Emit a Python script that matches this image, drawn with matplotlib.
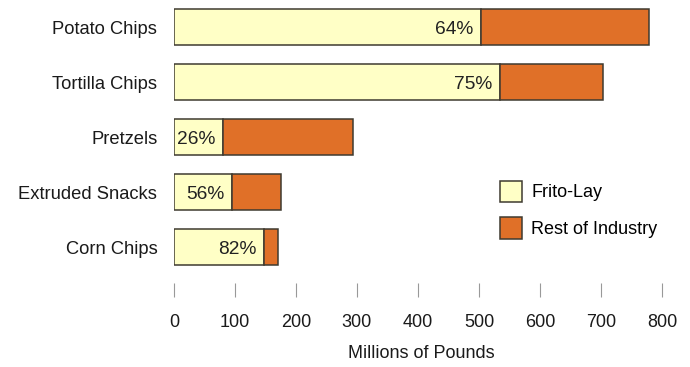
import matplotlib
matplotlib.use("Agg")
import matplotlib.pyplot as plt

categories = ["Potato Chips", "Tortilla Chips", "Pretzels", "Extruded Snacks", "Corn Chips"]
frito_lay = [504, 534, 81, 95, 147]          # millions of pounds
rest_of_industry = [275, 170, 212, 80, 24]   # millions of pounds
share_labels = ["64%", "75%", "26%", "56%", "82%"]
x_ticks = [0, 100, 200, 300, 400, 500, 600, 700, 800]
series_names = ["Frito-Lay", "Rest of Industry"]
x_label = "Millions of Pounds"

plt.rcParams["font.family"] = ["Liberation Sans", "DejaVu Sans"]

W, H = 690, 367
fig = plt.figure(figsize=(W / 100, H / 100), dpi=100)
left_px, right_px = 174, 668
top_px, bot_px = 0, 297
ax = fig.add_axes([left_px / W, 1 - bot_px / H, (right_px - left_px) / W, (bot_px - top_px) / H])

y = list(range(len(categories)))
c_frito = "#FFFFC6"
c_rest = "#E07028"
edge = "#3e3a30"
ax.barh(y, frito_lay, height=0.67, color=c_frito, edgecolor=edge, linewidth=1.1, label=series_names[0])
ax.barh(y, rest_of_industry, left=frito_lay, height=0.67, color=c_rest, edgecolor=edge, linewidth=1.1,
        label=series_names[1])

for yi, f, s in zip(y, frito_lay, share_labels):
    ax.annotate(s, xy=(f, yi), xytext=(-5.5, -1.5), textcoords="offset points",
                ha="right", va="center", fontsize=13.8, color="#222222")

ax.set_xlim(0, 810)
ax.set_ylim(4.909, -0.491)
for sp in ax.spines.values():
    sp.set_visible(False)
ax.set_yticks(y)
ax.set_yticklabels(categories, fontsize=13.2, color="#1a1a1a")
ax.tick_params(axis="y", length=0, pad=12)
ax.set_xticks(x_ticks)
ax.set_xticklabels([str(v) for v in x_ticks], fontsize=13, color="#1a1a1a")
ax.tick_params(axis="x", direction="in", length=10, width=0.8, color="#999999", pad=12)
ax.set_xlabel(x_label, fontsize=13, color="#1a1a1a", labelpad=10)

leg = ax.legend(loc="upper left", bbox_to_anchor=((487 - left_px) / (right_px - left_px), 1 - 168 / bot_px),
                frameon=False, fontsize=13, handlelength=1.25, handleheight=1.45,
                handletextpad=0.5, labelspacing=0.85, borderpad=0.2)

fig.savefig("out.png", dpi=100, facecolor="white")
